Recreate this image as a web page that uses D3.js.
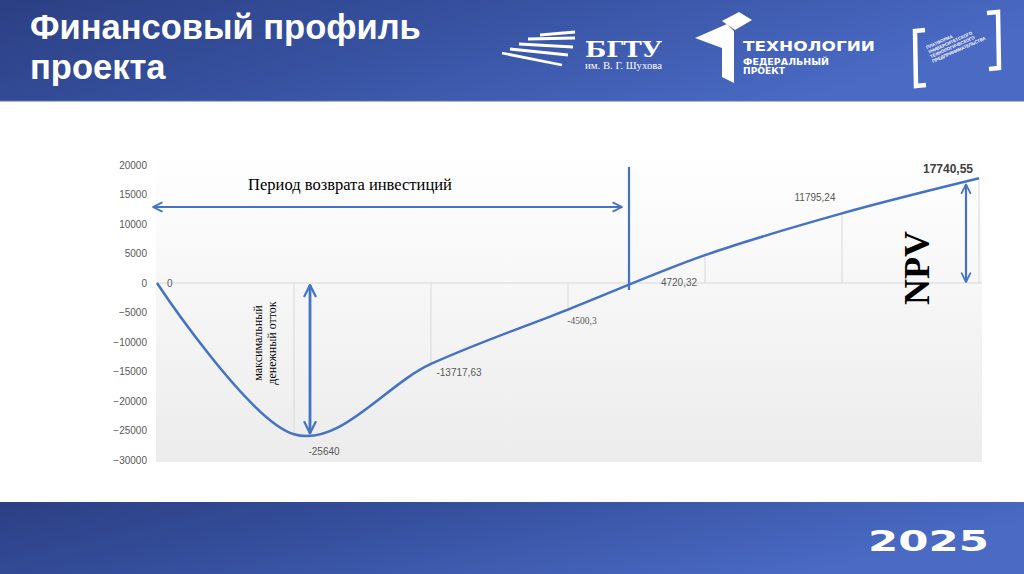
<!DOCTYPE html>
<html><head><meta charset="utf-8">
<script src="https://cdn.jsdelivr.net/npm/d3@7"></script>
<style>html,body{margin:0;padding:0;background:#fff;overflow:hidden}svg{display:block}</style>
</head><body>
<script>
// ---- data ----
const periods = [0, 1, 2, 3, 4, 5, 6];
const values = [0, -25640, -13717.63, -4500.3, 4720.32, 11795.24, 17740.55];
const valueLabels = ["0", "-25640", "-13717,63", "-4500,3", "4720,32", "11795,24", "17740,55"];
const yTicks = [20000, 15000, 10000, 5000, 0, -5000, -10000, -15000, -20000, -25000, -30000];
const titleLines = ["Финансовый профиль", "проекта"];
const yearLabel = "2025";

const W = 1024, H = 574;
const svg = d3.select("body").append("svg").attr("width", W).attr("height", H);
const defs = svg.append("defs");

const hg = defs.append("linearGradient").attr("id", "hdr").attr("x1", 0).attr("x2", 1).attr("y1", 0).attr("y2", 0.3);
hg.append("stop").attr("offset", 0).attr("stop-color", "#2b3f83");
hg.append("stop").attr("offset", 0.5).attr("stop-color", "#3853a3");
hg.append("stop").attr("offset", 1).attr("stop-color", "#4a6ac4");
const pg = defs.append("linearGradient").attr("id", "plotbg").attr("x1", 0).attr("x2", 0).attr("y1", 0).attr("y2", 1);
pg.append("stop").attr("offset", 0).attr("stop-color", "#ffffff");
pg.append("stop").attr("offset", 1).attr("stop-color", "#ececec");
const mk = defs.append("marker").attr("id", "arr").attr("viewBox", "0 0 10 10").attr("refX", 9).attr("refY", 5)
  .attr("markerWidth", 5).attr("markerHeight", 6).attr("orient", "auto-start-reverse").attr("markerUnits", "strokeWidth");
mk.append("path").attr("d", "M1,1 L9,5 L1,9").attr("fill", "none").attr("stroke", "#4472c4").attr("stroke-width", 1.6).attr("stroke-linecap", "round").attr("stroke-linejoin", "round");

// header
svg.append("rect").attr("x", 0).attr("y", 0).attr("width", W).attr("height", 101).attr("fill", "url(#hdr)");
svg.append("rect").attr("x", 0).attr("y", 100).attr("width", W).attr("height", 2).attr("fill", "#5a6fa8").attr("opacity", 0.5);
svg.append("text").attr("fill", "#fff").attr("font-family", "Liberation Sans, Arial, sans-serif")
  .attr("font-weight", "bold").attr("font-size", 34.5)
  .selectAll("tspan").data(titleLines).join("tspan").attr("x", 30).attr("y", (d, i) => 39 + i * 40).text(d => d);

// footer
svg.append("rect").attr("x", 0).attr("y", 502).attr("width", W).attr("height", 72).attr("fill", "url(#hdr)");
svg.append("text").attr("x", 868).attr("y", 551).attr("fill", "#fff")
  .attr("font-family", "DejaVu Sans, sans-serif").attr("font-weight", "bold").attr("font-size", 29)
  .attr("textLength", 121).attr("lengthAdjust", "spacingAndGlyphs").text(yearLabel);

// logos
const lg = svg.append("g").attr("stroke", "#fff").attr("stroke-linecap", "butt");
[[540, 35, 575, 32], [528, 39, 575, 38], [519, 44, 573, 47], [510, 49, 568, 55], [502, 53, 562, 65]].forEach(l =>
  lg.append("line").attr("x1", l[0]).attr("y1", l[1]).attr("x2", l[2]).attr("y2", l[3]).attr("stroke-width", 2.8));
svg.append("text").attr("x", 585).attr("y", 57).attr("fill", "#fff").attr("font-family", "DejaVu Serif, serif").attr("font-weight", "bold").attr("font-size", 23)
  .attr("textLength", 77).attr("lengthAdjust", "spacingAndGlyphs").text("БГТУ");
svg.append("text").attr("x", 585).attr("y", 69).attr("fill", "#fff").attr("font-family", "Liberation Serif, serif").attr("font-size", 10)
  .attr("textLength", 77).attr("lengthAdjust", "spacingAndGlyphs").text("им. В. Г. Шухова");
svg.append("path").attr("d", "M695,38 L727,24 L734,31 L734,83 L722,77 L722,48 Z").attr("fill", "#fff");
svg.append("path").attr("d", "M722,21 L739,12 L752,20 L735,30 Z").attr("fill", "#fff");
svg.append("text").attr("x", 743).attr("y", 51).attr("fill", "#fff").attr("font-family", "DejaVu Sans, sans-serif").attr("font-weight", "bold").attr("font-size", 14)
  .attr("textLength", 132).attr("lengthAdjust", "spacingAndGlyphs").text("ТЕХНОЛОГИИ");
svg.append("text").attr("x", 743).attr("y", 65).attr("fill", "#fff").attr("font-family", "DejaVu Sans, sans-serif").attr("font-weight", "bold").attr("font-size", 8.5)
  .attr("textLength", 86).attr("lengthAdjust", "spacingAndGlyphs").text("ФЕДЕРАЛЬНЫЙ");
svg.append("text").attr("x", 743).attr("y", 74).attr("fill", "#fff").attr("font-family", "DejaVu Sans, sans-serif").attr("font-weight", "bold").attr("font-size", 8.5)
  .attr("textLength", 42).attr("lengthAdjust", "spacingAndGlyphs").text("ПРОЕКТ");
svg.append("path").attr("d", "M925,30 L915,31 L916,86 L926,85").attr("fill", "none").attr("stroke", "#fff").attr("stroke-width", 4.5);
svg.append("path").attr("d", "M987,13 L998,12 L999,68 L989,69").attr("fill", "none").attr("stroke", "#fff").attr("stroke-width", 4.5);
svg.append("g").attr("transform", "translate(927,49) rotate(-24)").selectAll("text")
  .data(["ПЛАТФОРМА", "УНИВЕРСИТЕТСКОГО", "ТЕХНОЛОГИЧЕСКОГО", "ПРЕДПРИНИМАТЕЛЬСТВА"]).join("text")
  .attr("x", 0).attr("y", (d, i) => i * 5).attr("fill", "#fff").attr("font-family", "Liberation Sans, sans-serif").attr("font-weight", "bold").attr("font-size", 4.4).text(d => d);

// ---- chart ----
const x = d3.scalePoint().domain(periods).range([157, 979]);
const y = d3.scaleLinear().domain([-30000, 20000]).range([460, 165]);

svg.append("rect").attr("x", 156).attr("y", 150).attr("width", 826).attr("height", 312).attr("fill", "url(#plotbg)");

// y axis (labels only)
const yAxis = svg.append("g").attr("transform", "translate(147,0)")
  .call(d3.axisLeft(y).tickValues(yTicks).tickSize(0).tickPadding(0).tickFormat(d3.format("d")));
yAxis.select(".domain").remove();
yAxis.selectAll("text").attr("font-family", "Liberation Sans, Arial, sans-serif").attr("font-size", 10).attr("fill", "#595959");

// zero line
svg.append("line").attr("x1", 156).attr("x2", 982).attr("y1", y(0)).attr("y2", y(0)).attr("stroke", "#d9d9d9").attr("stroke-width", 1);
// drop lines
svg.append("g").selectAll("line").data(periods.slice(1)).join("line")
  .attr("x1", d => x(d)).attr("x2", d => x(d)).attr("y1", y(0)).attr("y2", d => y(values[d]))
  .attr("stroke", "#d9d9d9").attr("stroke-width", 1);

// curve
const line = d3.line().x((d, i) => x(periods[i])).y(d => y(d)).curve(d3.curveCardinal.tension(0));
svg.append("path").datum(values).attr("d", line).attr("fill", "none").attr("stroke", "#4472c4").attr("stroke-width", 2.5);

// value labels
const lblOff = [[10, 4, "start"], [30, 21, "middle"], [28, 12, "middle"], [14, 14, "middle"], [-26, 31, "middle"], [-27, -12, "middle"], [-31, -5, "middle"]];
svg.append("g").selectAll("text").data(values).join("text")
  .attr("x", (d, i) => x(periods[i]) + lblOff[i][0]).attr("y", (d, i) => y(d) + lblOff[i][1])
  .attr("text-anchor", (d, i) => lblOff[i][2])
  .attr("font-family", (d, i) => i === 3 ? "Liberation Serif, serif" : "Liberation Sans, Arial, sans-serif")
  .attr("font-size", (d, i) => i === 6 ? 12 : (i === 3 ? 9.5 : 10))
  .attr("font-weight", (d, i) => i === 6 ? "bold" : "normal")
  .attr("fill", (d, i) => i === 6 ? "#404040" : "#595959")
  .text((d, i) => valueLabels[i]);

// annotations
const blue = "#4472c4";
svg.append("line").attr("x1", 153).attr("x2", 622).attr("y1", 207).attr("y2", 207).attr("stroke", blue).attr("stroke-width", 2.2)
  .attr("marker-start", "url(#arr)").attr("marker-end", "url(#arr)");
svg.append("text").attr("x", 350).attr("y", 190).attr("text-anchor", "middle").attr("font-family", "Liberation Serif, Times New Roman, serif")
  .attr("font-size", 16.5).attr("fill", "#000").text("Период возврата инвестиций");
svg.append("line").attr("x1", 629).attr("x2", 629).attr("y1", 167).attr("y2", 290).attr("stroke", blue).attr("stroke-width", 2.2);
// max outflow arrow
svg.append("line").attr("x1", x(1) + 16).attr("x2", x(1) + 16).attr("y1", y(0) + 2).attr("y2", y(values[1]) - 1).attr("stroke", blue).attr("stroke-width", 2.8)
  .attr("marker-start", "url(#arr)").attr("marker-end", "url(#arr)");
svg.append("text").attr("transform", "translate(264,343) rotate(-90)").attr("text-anchor", "middle")
  .attr("font-family", "Liberation Serif, serif").attr("font-size", 12).attr("fill", "#000")
  .selectAll("tspan").data(["максимальный", "денежный отток"]).join("tspan").attr("x", 0).attr("dy", (d, i) => i === 0 ? -2 : 13.5).text(d => d);
// NPV arrow
svg.append("line").attr("x1", 966).attr("x2", 966).attr("y1", y(values[6]) + 6).attr("y2", y(0) - 1).attr("stroke", blue).attr("stroke-width", 2.2)
  .attr("marker-start", "url(#arr)").attr("marker-end", "url(#arr)");
svg.append("text").attr("transform", "translate(929,268) rotate(-90)").attr("text-anchor", "middle")
  .attr("font-family", "Liberation Serif, serif").attr("font-weight", "bold").attr("font-size", 36).attr("fill", "#000").text("NPV");
</script>
</body></html>
